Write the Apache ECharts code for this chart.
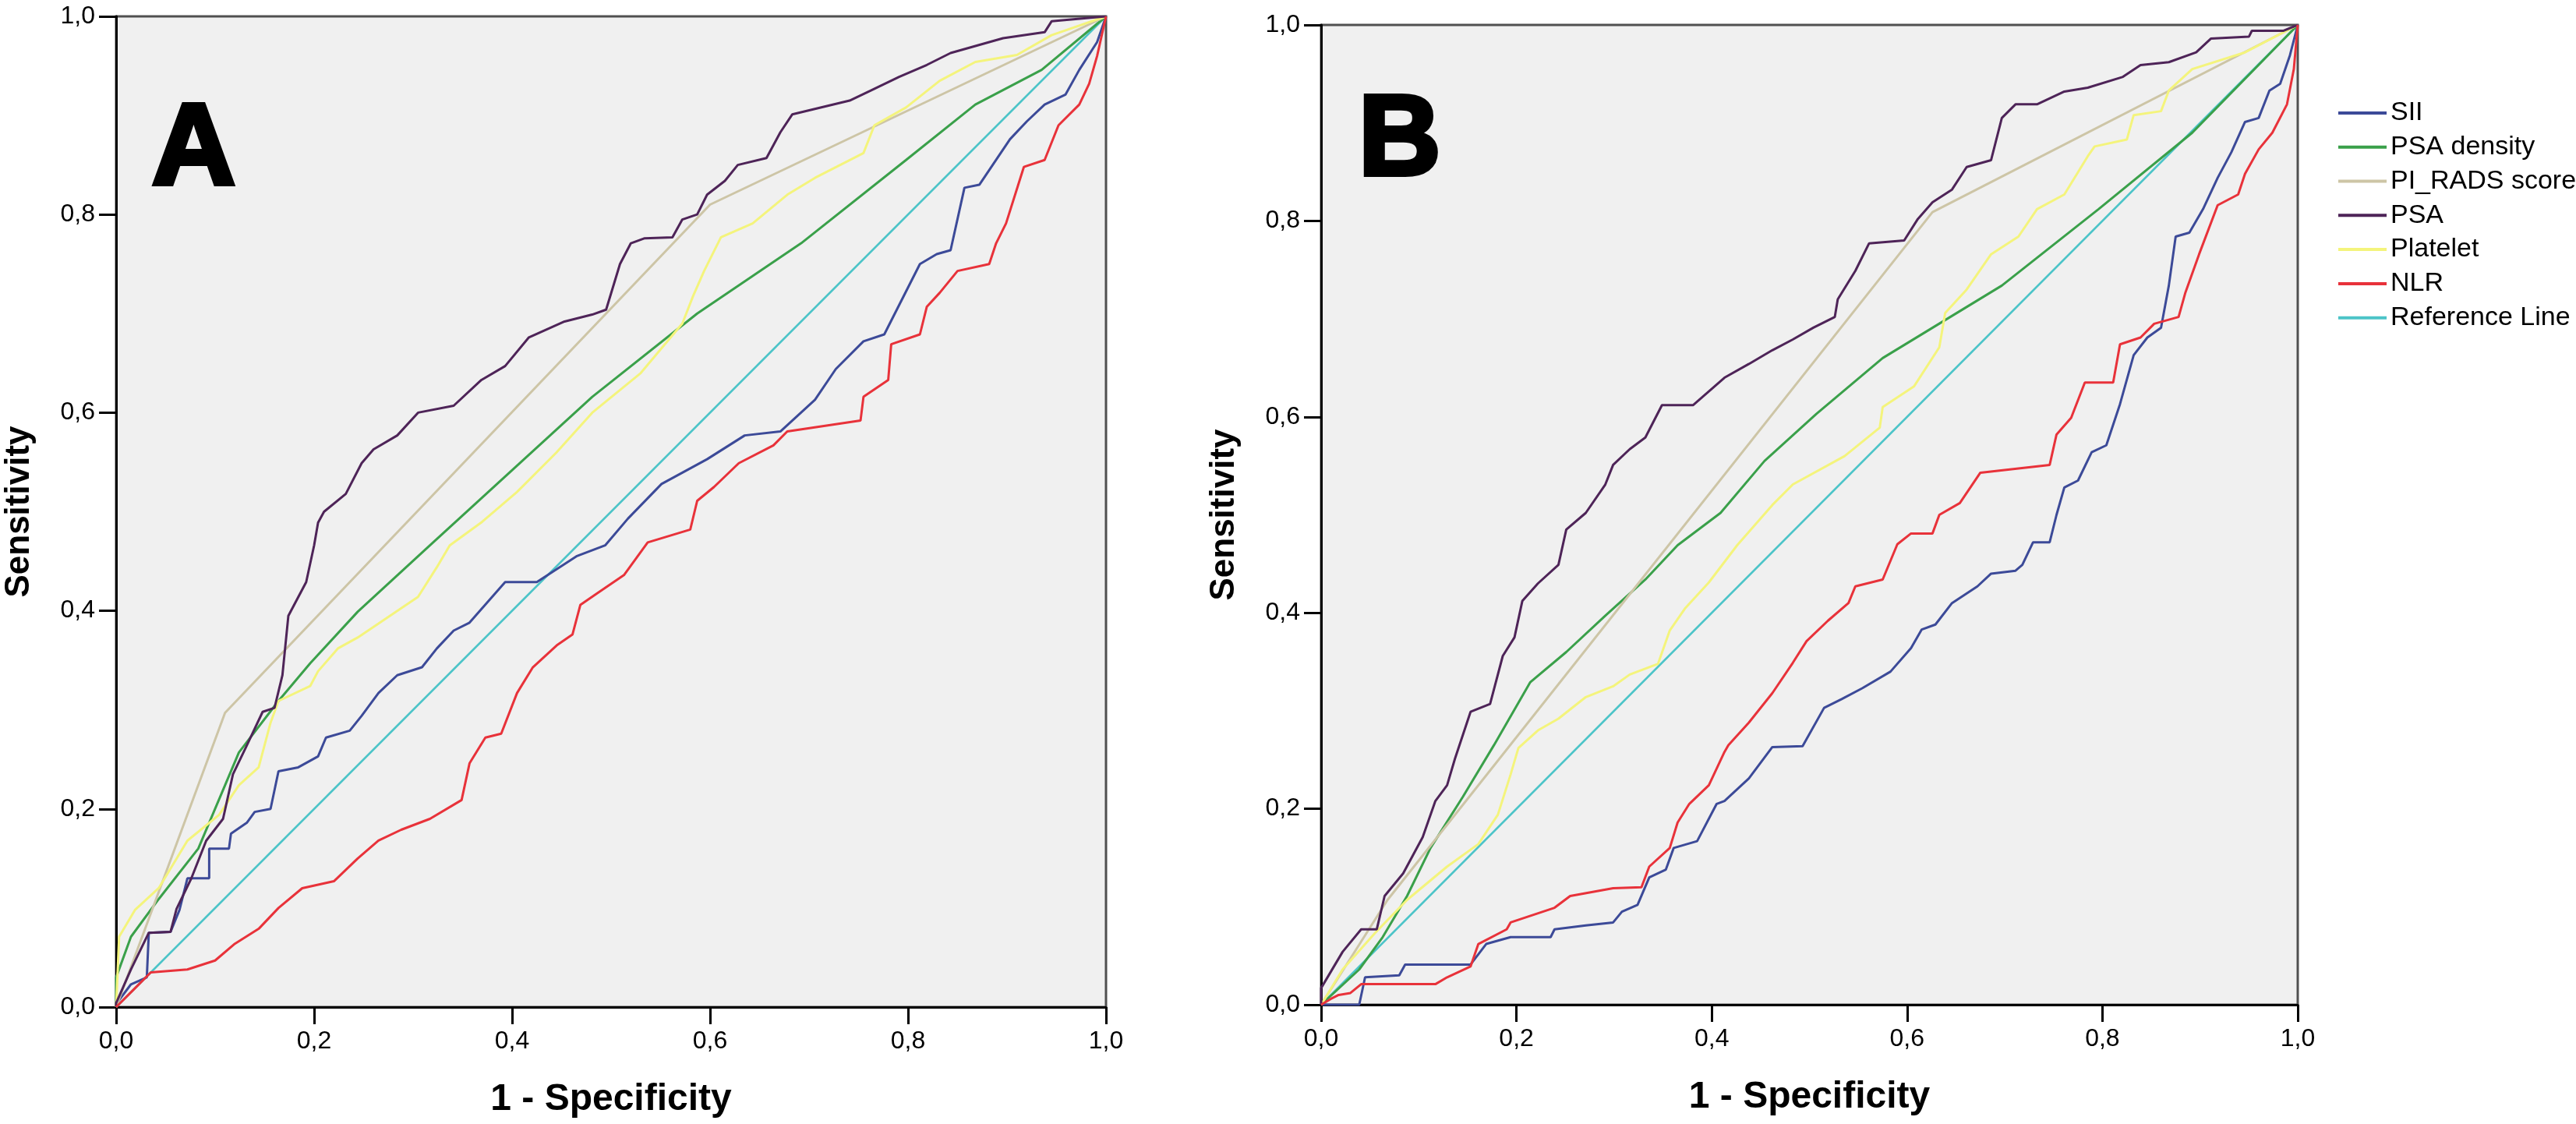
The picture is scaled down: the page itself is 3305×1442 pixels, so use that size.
<!DOCTYPE html>
<html>
<head>
<meta charset="utf-8">
<script src="https://cdn.jsdelivr.net/npm/echarts@6/dist/echarts.min.js"></script>
<style>
html,body{margin:0;padding:0;background:#ffffff;}
#chart{width:3305px;height:1442px;}
</style>
</head>
<body>
<div id="chart"></div>
<script>
// ---------- tick labels ----------
const TICK_LABELS = ['0,0', '0,2', '0,4', '0,6', '0,8', '1,0'];
const SERIES_NAMES = ['SII', 'PSA density', 'PI_RADS score', 'PSA', 'Platelet', 'NLR', 'Reference Line'];
const SERIES_COLORS = ['#3c4a98', '#3aa04a', '#cdc5a6', '#4e2458', '#f4f47c', '#e8323a', '#4cc4c8'];

// ---------- Panel A : [1 - specificity, sensitivity] ----------
const A_SII = [[0,0],[0,0.003],[0.015,0.023],[0.031,0.03],[0.033,0.075],[0.055,0.076],[0.064,0.098],[0.072,0.13],[0.094,0.13],[0.094,0.16],[0.114,0.16],[0.116,0.175],[0.132,0.186],[0.14,0.197],[0.156,0.2],[0.164,0.238],[0.184,0.242],[0.204,0.253],[0.212,0.272],[0.236,0.279],[0.248,0.294],[0.265,0.317],[0.284,0.335],[0.309,0.343],[0.324,0.362],[0.341,0.38],[0.357,0.388],[0.393,0.429],[0.425,0.429],[0.465,0.455],[0.494,0.466],[0.517,0.493],[0.551,0.528],[0.597,0.553],[0.635,0.577],[0.671,0.581],[0.706,0.613],[0.727,0.644],[0.755,0.672],[0.776,0.679],[0.812,0.75],[0.829,0.76],[0.843,0.764],[0.857,0.827],[0.872,0.83],[0.903,0.876],[0.92,0.894],[0.938,0.911],[0.959,0.921],[0.973,0.946],[0.991,0.974],[1,1]];
const A_PSAD = [[0,0],[0,0.03],[0.015,0.071],[0.043,0.109],[0.083,0.16],[0.124,0.257],[0.164,0.309],[0.196,0.347],[0.244,0.399],[0.317,0.466],[0.365,0.51],[0.481,0.616],[0.587,0.7],[0.692,0.771],[0.798,0.855],[0.868,0.911],[0.935,0.946],[1,1]];
const A_PIRADS = [[0,0],[0.11,0.297],[0.6,0.81],[1,1]];
const A_PSA = [[0,0],[0,0.004],[0.015,0.038],[0.033,0.075],[0.055,0.076],[0.061,0.099],[0.076,0.13],[0.091,0.168],[0.108,0.19],[0.118,0.235],[0.132,0.264],[0.148,0.298],[0.16,0.302],[0.168,0.335],[0.174,0.395],[0.192,0.429],[0.2,0.466],[0.204,0.489],[0.21,0.5],[0.232,0.518],[0.248,0.549],[0.26,0.563],[0.284,0.577],[0.305,0.6],[0.341,0.607],[0.369,0.633],[0.393,0.647],[0.417,0.676],[0.453,0.692],[0.481,0.699],[0.495,0.704],[0.509,0.75],[0.52,0.771],[0.534,0.776],[0.562,0.777],[0.572,0.795],[0.587,0.8],[0.597,0.82],[0.615,0.834],[0.628,0.85],[0.657,0.857],[0.671,0.883],[0.683,0.901],[0.741,0.915],[0.762,0.925],[0.791,0.939],[0.819,0.951],[0.843,0.963],[0.896,0.978],[0.938,0.984],[0.945,0.995],[1,1]];
const A_PLATELET = [[0,0],[0.003,0.071],[0.019,0.098],[0.043,0.12],[0.072,0.168],[0.104,0.194],[0.124,0.224],[0.144,0.242],[0.156,0.287],[0.164,0.309],[0.196,0.324],[0.204,0.339],[0.224,0.362],[0.244,0.373],[0.305,0.414],[0.324,0.444],[0.337,0.466],[0.37,0.49],[0.405,0.52],[0.445,0.56],[0.481,0.6],[0.53,0.64],[0.572,0.69],[0.583,0.718],[0.594,0.743],[0.611,0.777],[0.643,0.791],[0.678,0.82],[0.706,0.837],[0.755,0.862],[0.766,0.89],[0.798,0.908],[0.832,0.935],[0.868,0.954],[0.91,0.961],[0.945,0.981],[1,1]];
const A_NLR = [[0,0],[0.019,0.019],[0.035,0.035],[0.072,0.038],[0.1,0.047],[0.12,0.064],[0.144,0.079],[0.164,0.1],[0.188,0.12],[0.22,0.127],[0.244,0.15],[0.265,0.168],[0.288,0.179],[0.317,0.19],[0.349,0.209],[0.357,0.246],[0.373,0.272],[0.389,0.276],[0.405,0.317],[0.421,0.343],[0.445,0.365],[0.461,0.376],[0.469,0.406],[0.485,0.417],[0.513,0.436],[0.537,0.469],[0.58,0.482],[0.587,0.511],[0.604,0.525],[0.629,0.549],[0.664,0.567],[0.678,0.581],[0.752,0.592],[0.755,0.616],[0.78,0.633],[0.783,0.669],[0.812,0.679],[0.819,0.707],[0.832,0.721],[0.85,0.743],[0.882,0.75],[0.889,0.771],[0.899,0.791],[0.917,0.848],[0.938,0.855],[0.952,0.89],[0.973,0.911],[0.983,0.932],[0.991,0.96],[1,1]];
const A_REF = [[0,0],[1,1]];

// ---------- Panel B ----------
const B_SII = [[0,0],[0.039,0],[0.045,0.028],[0.08,0.03],[0.086,0.041],[0.153,0.041],[0.169,0.062],[0.194,0.069],[0.235,0.069],[0.239,0.077],[0.271,0.081],[0.299,0.084],[0.308,0.095],[0.324,0.102],[0.336,0.13],[0.353,0.138],[0.361,0.16],[0.385,0.167],[0.405,0.205],[0.413,0.208],[0.438,0.231],[0.462,0.263],[0.493,0.264],[0.515,0.303],[0.533,0.312],[0.554,0.323],[0.583,0.34],[0.604,0.364],[0.615,0.383],[0.629,0.388],[0.646,0.41],[0.672,0.427],[0.686,0.44],[0.711,0.443],[0.718,0.449],[0.729,0.472],[0.746,0.472],[0.753,0.5],[0.761,0.528],[0.775,0.535],[0.789,0.564],[0.804,0.571],[0.818,0.613],[0.832,0.663],[0.846,0.681],[0.86,0.691],[0.868,0.734],[0.875,0.784],[0.889,0.788],[0.903,0.812],[0.918,0.844],[0.932,0.87],[0.946,0.901],[0.96,0.905],[0.971,0.933],[0.982,0.94],[0.992,0.969],[1,1]];
const B_PSAD = [[0,0],[0.039,0.036],[0.063,0.069],[0.088,0.111],[0.112,0.16],[0.145,0.212],[0.177,0.265],[0.214,0.329],[0.251,0.36],[0.291,0.397],[0.332,0.434],[0.365,0.469],[0.409,0.502],[0.454,0.555],[0.507,0.603],[0.575,0.66],[0.697,0.734],[0.796,0.812],[0.892,0.89],[1,1]];
const B_PIRADS = [[0,0],[0.068,0.107],[0.626,0.809],[1,1]];
const B_PSA = [[0,0],[0,0.017],[0.022,0.054],[0.041,0.077],[0.057,0.077],[0.065,0.111],[0.084,0.134],[0.104,0.171],[0.117,0.208],[0.129,0.224],[0.137,0.251],[0.153,0.299],[0.173,0.307],[0.186,0.356],[0.198,0.375],[0.206,0.412],[0.222,0.43],[0.243,0.449],[0.251,0.485],[0.271,0.502],[0.291,0.531],[0.299,0.551],[0.316,0.567],[0.332,0.579],[0.349,0.612],[0.381,0.612],[0.413,0.64],[0.438,0.654],[0.462,0.668],[0.483,0.679],[0.504,0.691],[0.526,0.702],[0.529,0.72],[0.547,0.749],[0.561,0.777],[0.597,0.78],[0.611,0.802],[0.626,0.819],[0.646,0.832],[0.661,0.855],[0.686,0.862],[0.697,0.905],[0.711,0.919],[0.733,0.919],[0.761,0.932],[0.785,0.936],[0.821,0.947],[0.839,0.959],[0.868,0.962],[0.896,0.972],[0.911,0.986],[0.95,0.988],[0.953,0.994],[0.985,0.994],[1,1]];
const B_PLATELET = [[0,0],[0.022,0.036],[0.055,0.073],[0.088,0.107],[0.129,0.141],[0.161,0.164],[0.181,0.194],[0.194,0.235],[0.202,0.262],[0.222,0.28],[0.243,0.292],[0.271,0.314],[0.299,0.325],[0.316,0.337],[0.345,0.348],[0.357,0.382],[0.373,0.405],[0.397,0.431],[0.426,0.469],[0.462,0.51],[0.483,0.531],[0.536,0.56],[0.572,0.589],[0.575,0.61],[0.607,0.631],[0.633,0.671],[0.639,0.706],[0.661,0.73],[0.686,0.766],[0.714,0.784],[0.733,0.812],[0.761,0.827],[0.785,0.866],[0.792,0.876],[0.825,0.883],[0.832,0.908],[0.86,0.912],[0.868,0.933],[0.892,0.955],[0.946,0.972],[1,1]];
const B_NLR = [[0,0],[0.01,0.006],[0.018,0.01],[0.03,0.012],[0.041,0.021],[0.117,0.021],[0.129,0.028],[0.153,0.039],[0.161,0.062],[0.19,0.077],[0.194,0.084],[0.218,0.092],[0.239,0.099],[0.255,0.111],[0.299,0.119],[0.328,0.12],[0.336,0.141],[0.357,0.16],[0.365,0.186],[0.377,0.205],[0.397,0.224],[0.413,0.258],[0.417,0.265],[0.438,0.288],[0.462,0.318],[0.483,0.349],[0.497,0.371],[0.519,0.392],[0.54,0.41],[0.547,0.427],[0.575,0.434],[0.59,0.47],[0.604,0.481],[0.626,0.481],[0.633,0.5],[0.654,0.512],[0.675,0.543],[0.746,0.551],[0.753,0.582],[0.768,0.599],[0.782,0.635],[0.811,0.635],[0.818,0.674],[0.839,0.681],[0.853,0.695],[0.878,0.702],[0.885,0.727],[0.899,0.766],[0.918,0.816],[0.939,0.827],[0.946,0.848],[0.96,0.873],[0.974,0.89],[0.989,0.919],[0.996,0.955],[1,1]];
const B_REF = [[0,0],[1,1]];

const PANEL_A = [A_SII, A_PSAD, A_PIRADS, A_PSA, A_PLATELET, A_NLR, A_REF];
const PANEL_B = [B_SII, B_PSAD, B_PIRADS, B_PSA, B_PLATELET, B_NLR, B_REF];
const PANEL_LETTERS = ['A', 'B'];

const FONT = '"Liberation Sans", Arial, Helvetica, sans-serif';

function makeX(gi) {
  return {
    type: 'value', gridIndex: gi, min: 0, max: 1, interval: 0.2,
    name: '1 - Specificity', nameLocation: 'middle', nameGap: 95,
    nameTextStyle: {fontFamily: FONT, fontSize: 48, fontWeight: 'bold', color: '#000'},
    axisLine: {show: true, onZero: false, lineStyle: {color: '#000', width: 3}},
    axisTick: {show: true, length: 22, lineStyle: {color: '#000', width: 3}},
    axisLabel: {fontFamily: FONT, fontSize: 32, color: '#000', margin: 28,
      formatter: v => TICK_LABELS[Math.round(v / 0.2)]},
    splitLine: {show: false}
  };
}
function makeY(gi) {
  return {
    type: 'value', gridIndex: gi, min: 0, max: 1, interval: 0.2,
    name: 'Sensitivity', nameLocation: 'middle', nameGap: 102,
    nameTextStyle: {fontFamily: FONT, fontSize: 44, fontWeight: 'bold', color: '#000'},
    axisLine: {show: true, onZero: false, lineStyle: {color: '#000', width: 3}},
    axisTick: {show: true, length: 22, lineStyle: {color: '#000', width: 3}},
    axisLabel: {fontFamily: FONT, fontSize: 32, color: '#000', margin: 27,
      formatter: v => TICK_LABELS[Math.round(v / 0.2)]},
    splitLine: {show: false}
  };
}

const series = [];
[PANEL_A, PANEL_B].forEach((panel, gi) => {
  // reference line first so the curves lie on top of it
  const order = [6, 0, 1, 2, 4, 3, 5];
  order.forEach(k => {
    series.push({
      type: 'line', name: SERIES_NAMES[k], xAxisIndex: gi, yAxisIndex: gi,
      data: panel[k], showSymbol: false, symbol: 'none', smooth: false,
      color: SERIES_COLORS[k],
      itemStyle: {color: SERIES_COLORS[k]},
      lineStyle: {color: SERIES_COLORS[k], width: k === 6 ? 2.5 : 3},
      emphasis: {disabled: true}, silent: true, z: 2
    });
  });
});

const chart = echarts.init(document.getElementById('chart'), null, {renderer: 'canvas'});
chart.setOption({
  animation: false,
  backgroundColor: '#ffffff',
  grid: [
    {left: 149, top: 21, width: 1270, height: 1271, show: true, backgroundColor: '#f0f0f0', borderColor: '#505050', borderWidth: 3},
    {left: 1695, top: 32, width: 1253, height: 1257, show: true, backgroundColor: '#f0f0f0', borderColor: '#505050', borderWidth: 3}
  ],
  xAxis: [makeX(0), makeX(1)],
  yAxis: [makeY(0), makeY(1)],
  legend: {
    orient: 'vertical', left: 2995, top: 118,
    data: SERIES_NAMES, icon: 'rect', itemWidth: 62, itemHeight: 4, itemGap: 0,
    textStyle: {fontFamily: FONT, fontSize: 34, color: '#000', lineHeight: 43.8},
    selectedMode: false
  },
  graphic: [
    {type: 'text', left: 192, top: 145 - 27, z: 10, style: {text: PANEL_LETTERS[0], fontFamily: FONT, fontSize: 148, fontWeight: 'bold', fill: '#000', stroke: '#000', lineWidth: 6, lineJoin: 'round'}},
    {type: 'text', left: 1740, top: 135 - 27, z: 10, style: {text: PANEL_LETTERS[1], fontFamily: FONT, fontSize: 146, fontWeight: 'bold', fill: '#000', stroke: '#000', lineWidth: 6, lineJoin: 'round'}}
  ],
  series: series
});
</script>
</body>
</html>
